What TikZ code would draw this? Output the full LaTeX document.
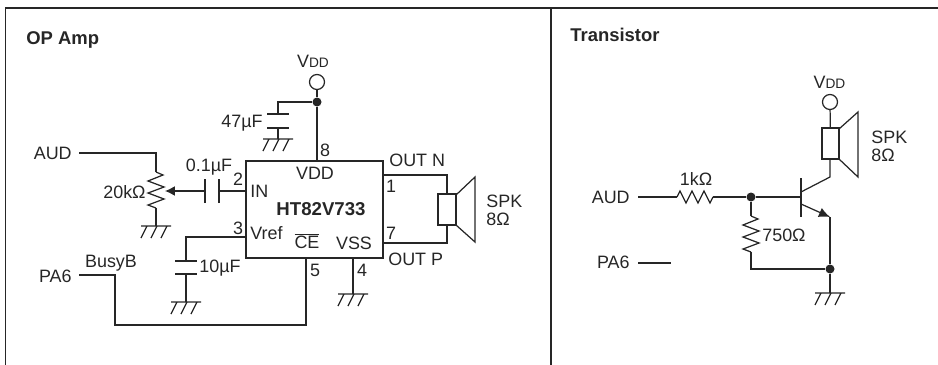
\documentclass[tikz,border=0pt]{standalone}
\usepackage{fontspec}
\setmainfont{Liberation Sans}
\usetikzlibrary{arrows.meta}

\begin{document}
\begin{tikzpicture}[yscale=-1,x=0.02cm,y=0.02cm,>=latex]
	\tikzstyle{wire} = [line width=0.7pt, draw=black!85]
	\tikzstyle{frame} = [line width=0.9pt, draw=black!85]
	\tikzstyle{lbl} = [inner sep=0pt, text=black!85, font=\fontsize{10.2}{10.3}\selectfont]
	\tikzstyle{title} = [lbl, font=\fontsize{10.5}{11}\selectfont\bfseries]
	\tikzstyle{IC} = [wire, draw, minimum width=137*0.02cm, minimum height=97*0.02cm, inner sep=0pt]
	\tikzstyle{coil} = [wire, draw, minimum width=18*0.02cm, minimum height=31*0.02cm, inner sep=0pt]
	\tikzstyle{rail} = [wire, draw, circle, fill=white, minimum size=15*0.02cm, inner sep=0pt]
	\tikzstyle{dot} = [circle, fill=black!85, minimum size=9*0.02cm, inner sep=0pt]
	\tikzset{
		gnd/.pic={\draw[wire] (-15,0) -- (15,0) (-9,0) -- (-15,-12) (1,0) -- (-5,-12) (11,0) -- (5,-12);},
		plate/.pic={\draw[wire] (-11,0) -- (11,0);},
		vplate/.pic={\draw[wire] (0,-12) -- (0,12);},
		vzig/.pic={\draw[wire] (0,0) -- (7,-3) -- (-8,-9) -- (8,-15) -- (-8,-21) -- (8,-27) -- (-8,-33) -- (0,-36);},
		hzig/.pic={\draw[wire] (0,0) -- (3,6) -- (9,-6) -- (15,6) -- (21,-6) -- (27,6) -- (33,-6) -- (36,0);}
	}
	\useasboundingbox (0,0) rectangle (938,365);

	% frame
	\coordinate (frameTL) at (5.5,8);
	\coordinate (frameTR) at (938,8);
	\coordinate (frameBL) at (5.5,365);
	\coordinate (midT) at (551,8);
	\coordinate (midB) at (551,365);
	\draw[frame] (frameBL) -- (frameTL) -- (frameTR);
	\draw[frame] (midT) -- (midB);
	\node[title, anchor=west] (titleAmp) at (26,39.5) {OP Amp};
	\node[title, anchor=west] (titleTr) at (570,35) {Transistor};

	% OP amp
	\node[IC] (chip) at (314.5,209.5) {};
	\node[lbl] (chipVDD) at (315,173) {VDD};
	\node[lbl, font=\fontsize{10.6}{11}\selectfont\bfseries] (chipName) at (321,209) {HT82V733};
	\node[lbl, anchor=west] (chipIN) at (250,191) {IN};
	\node[lbl, anchor=west] (chipVref) at (250,233) {Vref};
	\node[lbl] (chipCE) at (307,241) {$\overline{\mbox{CE}}$};
	\node[lbl] (chipVSS) at (354,243) {VSS};

	\node[rail] (vddA) at (317,82) {};
	\node[lbl] (vddAtxt) at (313,61) {V{\fontsize{7.8}{8}\selectfont DD}};
	\node[dot] (vddAdot) at (317,102) {};
	\coordinate (pin8) at (317,161);
	\draw[wire] (vddA) -- (vddAdot) -- (pin8);
	\node[lbl] (n8) at (325,150) {8};
	\coordinate (capAt) at (278,114);
	\coordinate (capAb) at (278,128);
	\coordinate (gndA) at (278,139);
	\draw[wire] (vddAdot) -| (capAt);
	\draw[wire] (capAb) -- (gndA);
	\pic at (capAt) {plate};
	\pic at (capAb) {plate};
	\pic at (gndA) {gnd};
	\node[lbl, anchor=east] (c47) at (263,123) {47µF};

	\node[lbl, anchor=east] (audA) at (72,153) {AUD};
	\coordinate (audAin) at (79,153);
	\coordinate (potT) at (156,172);
	\coordinate (potB) at (156,208);
	\coordinate (gndP) at (156,226);
	\draw[wire] (audAin) -| (potT);
	\pic at (potT) {vzig};
	\draw[wire] (potB) -- (gndP);
	\pic at (gndP) {gnd};
	\node[lbl, anchor=east] (r20) at (146,192) {20kΩ};
	\coordinate (wiper) at (165,191);
	\coordinate (capBl) at (205,191);
	\coordinate (capBr) at (219,191);
	\coordinate (pin2) at (246,191);
	\draw[wire, -{Latex[length=8pt*0.7,width=8pt*0.7]}] (capBl) -- (wiper);
	\draw[wire] (capBr) -- (pin2);
	\pic at (capBl) {vplate};
	\pic at (capBr) {vplate};
	\node[lbl] (c01) at (209,167) {0.1µF};
	\node[lbl] (n2) at (238,179) {2};

	\coordinate (pin3) at (246,237);
	\coordinate (capCt) at (186,261);
	\coordinate (capCb) at (186,274);
	\coordinate (gndC) at (186,302);
	\draw[wire] (pin3) -| (capCt);
	\draw[wire] (capCb) -- (gndC);
	\pic at (capCt) {plate};
	\pic at (capCb) {plate};
	\pic at (gndC) {gnd};
	\node[lbl, anchor=west] (c10) at (199,268) {10µF};
	\node[lbl] (n3) at (238,228) {3};

	\node[lbl, anchor=east] (pa6A) at (72,276) {PA6};
	\node[lbl] (busy) at (111,263) {BusyB};
	\coordinate (pa6Ain) at (79,275);
	\coordinate (busyC) at (115,325);
	\coordinate (pin5) at (306,258);
	\draw[wire] (pa6Ain) -| (busyC) -| (pin5);
	\node[lbl] (n5) at (315,270) {5};

	\coordinate (pin4) at (353,258);
	\coordinate (gndD) at (353,294);
	\draw[wire] (pin4) -- (gndD);
	\pic at (gndD) {gnd};
	\node[lbl] (n4) at (362,270) {4};

	\node[coil] (spkA) at (447,209.5) {};
	\coordinate (pin1) at (383,175);
	\coordinate (pin7) at (383,243);
	\draw[wire] (pin1) -| (spkA.north);
	\draw[wire] (pin7) -| (spkA.south);
	\coordinate (coneAa) at (456,195);
	\coordinate (coneAb) at (475,177);
	\coordinate (coneAc) at (475,242);
	\coordinate (coneAd) at (456,225);
	\draw[wire] (coneAa) -- (coneAb) -- (coneAc) -- (coneAd);
	\node[lbl] (n1) at (391,186) {1};
	\node[lbl] (n7) at (391,233) {7};
	\node[lbl, anchor=west] (outN) at (389,160) {OUT N};
	\node[lbl, anchor=west] (outP) at (388,259) {OUT P};
	\node[lbl, anchor=west, align=left] (spkAtxt) at (486,210) {SPK\\8Ω};

	% transistor
	\node[lbl, anchor=east] (audB) at (630,197) {AUD};
	\node[lbl, anchor=east] (pa6B) at (630,262) {PA6};
	\coordinate (audBin) at (638,197);
	\coordinate (pa6Bin) at (638,263);
	\coordinate (pa6Bend) at (671,263);
	\draw[wire] (pa6Bin) -- (pa6Bend);
	\coordinate (r1l) at (677,197);
	\coordinate (r1r) at (713,197);
	\node[dot] (base) at (751,197) {};
	\coordinate (baseBar) at (801,197);
	\draw[wire] (audBin) -- (r1l);
	\pic at (r1l) {hzig};
	\draw[wire] (r1r) -- (base) -- (baseBar);
	\node[lbl] (r1k) at (696,179) {1kΩ};
	\coordinate (barT) at (801,178);
	\coordinate (barB) at (801,217);
	\draw[wire] (barT) -- (barB);
	\coordinate (collIn) at (801,192);
	\coordinate (coll) at (830,177);
	\coordinate (emIn) at (801,204);
	\coordinate (em) at (830,217);
	\node[coil, minimum width=17*0.02cm] (spkB) at (830.5,143.5) {};
	\node[rail] (vddB) at (830,102) {};
	\node[lbl] (vddBtxt) at (829.5,82) {V{\fontsize{7.8}{8}\selectfont DD}};
	\draw[wire] (vddB) -- (spkB);
	\draw[wire] (collIn) -- (coll) -- (coll |- spkB.south);
	\draw[wire, -{Latex[length=9pt*0.7,width=8pt*0.7]}] (emIn) -- (em);
	\coordinate (coneBa) at (839,129);
	\coordinate (coneBb) at (858,112);
	\coordinate (coneBc) at (858,177);
	\coordinate (coneBd) at (839,159);
	\draw[wire] (coneBa) -- (coneBb) -- (coneBc) -- (coneBd);
	\node[lbl, anchor=west, align=left] (spkBtxt) at (871,146) {SPK\\8Ω};
	\node[dot] (emDot) at (830,269) {};
	\coordinate (gndE) at (830,293);
	\draw[wire] (em) -- (emDot) -- (gndE);
	\pic at (gndE) {gnd};
	\coordinate (r2t) at (751,216);
	\coordinate (r2b) at (751,252);
	\draw[wire] (base) -- (r2t);
	\pic at (r2t) {vzig};
	\draw[wire] (r2b) |- (emDot);
	\node[lbl, anchor=west] (r750) at (762,235) {750Ω};
\end{tikzpicture}
\end{document}
